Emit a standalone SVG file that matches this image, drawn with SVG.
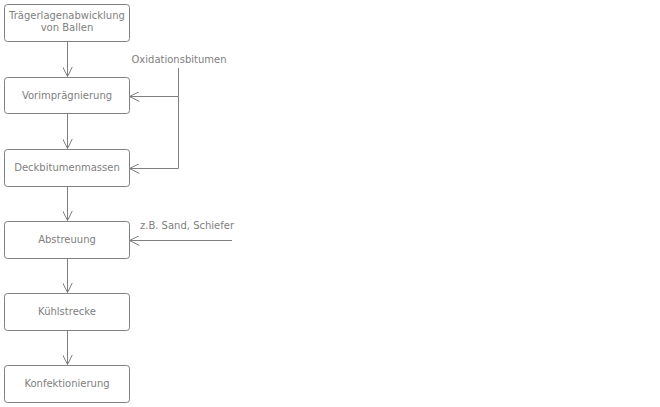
<svg xmlns="http://www.w3.org/2000/svg" width="660" height="407" viewBox="0 0 660 407">
<defs>
<marker id="ah" viewBox="0 0 10 10" refX="10" refY="5" markerWidth="10" markerHeight="10" markerUnits="userSpaceOnUse" orient="auto">
<path d="M0,0 L10,5 L0,10" fill="none" stroke="#808080" stroke-width="1"/>
</marker>
<style>
.box{fill:#fff;stroke:#808080;stroke-width:1}
.t{font-family:"DejaVu Sans",Verdana,sans-serif;font-size:10px;fill:#808080;text-anchor:middle}
.c{fill:none;stroke:#808080;stroke-width:1}
</style>
</defs>
<rect width="660" height="407" fill="#fff"/>
<g id="connectors">
<line class="c" x1="67.5" y1="41.5" x2="67.5" y2="76.5" marker-end="url(#ah)"/>
<line class="c" x1="67.5" y1="113.5" x2="67.5" y2="148.5" marker-end="url(#ah)"/>
<line class="c" x1="67.5" y1="186.5" x2="67.5" y2="220.5" marker-end="url(#ah)"/>
<line class="c" x1="67.5" y1="258.5" x2="67.5" y2="292.5" marker-end="url(#ah)"/>
<line class="c" x1="67.5" y1="330.5" x2="67.5" y2="364.5" marker-end="url(#ah)"/>
<polyline class="c" points="178.5,68 178.5,96.5 129.5,96.5" marker-end="url(#ah)"/>
<polyline class="c" points="178.5,96.5 178.5,168.5 129.5,168.5" marker-end="url(#ah)"/>
<line class="c" x1="232" y1="240.5" x2="129.5" y2="240.5" marker-end="url(#ah)"/>
</g>
<g id="n1"><rect class="box" x="4.5" y="4.5" width="125" height="37" rx="3"/><text class="t" x="67" y="19">Trägerlagenabwicklung</text><text class="t" x="67" y="31">von Ballen</text></g>
<g id="n2"><rect class="box" x="4.5" y="77.5" width="125" height="36" rx="3"/><text class="t" x="67" y="99">Vorimprägnierung</text></g>
<g id="n3"><rect class="box" x="4.5" y="149.5" width="125" height="37" rx="3"/><text class="t" x="67" y="171">Deckbitumenmassen</text></g>
<g id="n4"><rect class="box" x="4.5" y="221.5" width="125" height="37" rx="3"/><text class="t" x="67" y="243">Abstreuung</text></g>
<g id="n5"><rect class="box" x="4.5" y="293.5" width="125" height="37" rx="3"/><text class="t" x="67" y="315">Kühlstrecke</text></g>
<g id="n6"><rect class="box" x="4.5" y="365.5" width="125" height="37" rx="3"/><text class="t" x="67" y="387">Konfektionierung</text></g>
<g id="labels">
<text class="t" x="179" y="63">Oxidationsbitumen</text>
<text class="t" x="187" y="229">z.B. Sand, Schiefer</text>
</g>
</svg>
